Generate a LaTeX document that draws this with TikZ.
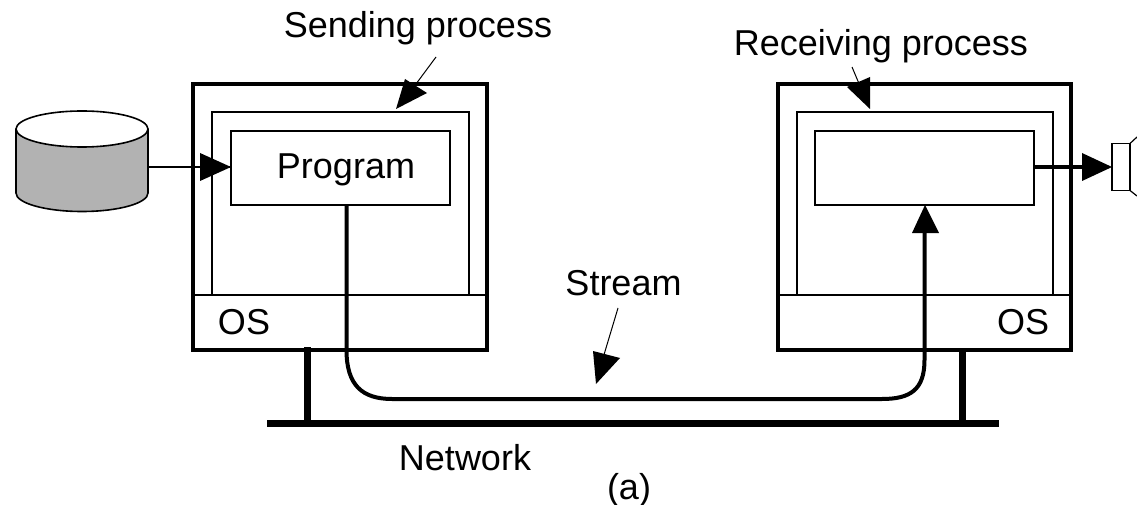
\documentclass[tikz,border=0pt]{standalone}
\usepackage{fontspec}
\usetikzlibrary{shapes.geometric}
\setmainfont{Liberation Sans}
\tikzset{
  box/.style={draw=black,fill=none,rectangle,inner sep=0pt,outer sep=0pt,line width=#1},
  lbl/.style={inner sep=0pt,font=\fontsize{36}{36}\selectfont,text=black},
  tip/.style={fill=black,draw=none},
}
\begin{document}
\begin{tikzpicture}[x=1pt,y=-1pt]
\useasboundingbox (0,0) rectangle (1137,505);
% disk
\fill[fill=black!30] (16,129) -- (148,129) -- (148,193) arc[start angle=0,end angle=180,x radius=66,y radius=18.5] -- cycle;
\draw[line width=1.6pt] (16,129) -- (16,193) arc[start angle=180,end angle=0,x radius=66,y radius=18.5] -- (148,129);
\node[draw,line width=1.6pt,fill=white,ellipse,minimum width=132pt,minimum height=36pt,inner sep=0pt,outer sep=0pt] (disk) at (82,129) {};
\coordinate (diskout) at (148,167);
% left host
\node[box=1.6pt,minimum width=257pt,minimum height=183pt] (sproc) at (340.5,203.5) {};
\node[box=1.6pt,minimum width=219pt,minimum height=74pt] (prog) at (340.5,168) {};
\node[box=3.5pt,minimum width=294pt,minimum height=266pt] (shost) at (340,217) {};
\draw[line width=1.6pt] (shost.west |- sproc.south) -- (shost.east |- sproc.south);
% right host
\node[box=1.6pt,minimum width=256pt,minimum height=183pt] (rproc) at (925,203.5) {};
\node[box=1.6pt,minimum width=219pt,minimum height=74pt] (rbox) at (924.5,168) {};
\node[box=3.5pt,minimum width=293pt,minimum height=266pt] (rhost) at (924.5,217) {};
\draw[line width=1.6pt] (rhost.west |- rproc.south) -- (rhost.east |- rproc.south);
% speaker
\node[box=1.6pt,minimum width=18pt,minimum height=47pt] (spk) at (1121,167) {};
\coordinate (flA) at (1137,137);
\coordinate (flB) at (1137,196);
\draw[line width=1.2pt] (spk.north east) -- (flA);
\draw[line width=1.2pt] (spk.south east) -- (flB);
% network
\coordinate (netL) at (267,423);
\coordinate (netR) at (999,423);
\draw[line width=7pt] (netL) -- (netR);
\coordinate (stubA) at (307,347);
\coordinate (stubB) at (962,350);
\draw[line width=7pt] (stubA) -- (stubA |- netL);
\draw[line width=7pt] (stubB) -- (stubB |- netL);
% labels
\node[lbl] (tsend) at (418,28) {Sending process};
\node[lbl] (trecv) at (881,46) {Receiving process};
\node[lbl] (tprog) at (346,170) {Program};
\node[lbl] (tos1) at (244,322) {OS};
\node[lbl] (tos2) at (1023,322) {OS};
\node[lbl] (tstream) at (623.5,283) {Stream};
\node[lbl] (tnet) at (465,458) {Network};
\node[lbl] (ta) at (629,490) {(a)};
% disk -> program
\draw[line width=1.2pt] (diskout) -- (prog.west |- diskout);
\fill[tip] (prog.west |- diskout) -- ++(-31,-14) -- ++(0,28) -- cycle;
% program -> receiver over network
\coordinate (sx) at (346.5,205);
\coordinate (rx) at (925,205);
\draw[line width=4pt] (sx) -- (346.5,350) .. controls (346.5,385) and (362,399) .. (392,399) -- (882,399) .. controls (910,399) and (924.5,390) .. (924.5,360) -- (924.5,232);
\fill[tip] (rx) -- (912,233) -- (939,233) -- cycle;
% out arrow
\draw[line width=4pt] (rbox.east |- spk.west) -- (1085,167);
\fill[tip] (spk.west) -- ++(-30,-14) -- ++(0,28) -- cycle;
% sending arrow
\coordinate (sa) at (436,57);
\coordinate (sb) at (396,109);
\draw[line width=1pt] (sa) -- (416,84);
\fill[tip] (sb) -- (405,79) -- (427,93) -- cycle;
% receiving arrow
\coordinate (ra) at (852,67);
\coordinate (rb) at (870,109);
\draw[line width=1pt] (ra) -- (860,86);
\fill[tip] (rb) -- (847,87) -- (870,77) -- cycle;
% stream arrow
\coordinate (st) at (618,308);
\coordinate (stb) at (596,384);
\draw[line width=1pt] (st) -- (603,358);
\fill[tip] (stb) -- (593,351) -- (620,358) -- cycle;
\end{tikzpicture}
\end{document}
